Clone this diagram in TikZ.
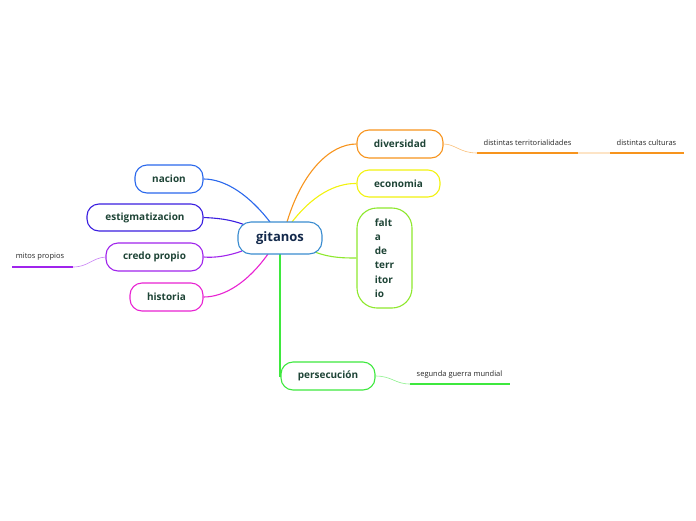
\documentclass[tikz,border=0pt]{standalone}
\usepackage{fontspec}
\setmainfont{Open Sans}
\definecolor{txt}{HTML}{1E4436}
\definecolor{navy}{HTML}{13294B}
\definecolor{cblue}{HTML}{3A8CD0}
\definecolor{corange}{HTML}{F7941D}
\definecolor{cyellow}{HTML}{F2F20F}
\definecolor{clime}{HTML}{8EE82E}
\definecolor{cgreen}{HTML}{3EE83E}
\definecolor{cnacion}{HTML}{2A68EC}
\definecolor{cestig}{HTML}{3A1EE0}
\definecolor{ccredo}{HTML}{A024EC}
\definecolor{chist}{HTML}{E823D2}
\tikzset{
  topic/.style={draw, line width=1.1pt, fill=white, rounded corners=12pt, font=\bfseries\fontsize{10}{12}\selectfont, text=txt, inner sep=0pt, anchor=center},
  sub/.style={font=\fontsize{7.5}{9}\selectfont, text=black!85, inner sep=0pt},
  conn/.style={line width=1.1pt},
  thin/.style={line width=0.6pt},
}
\begin{document}
\begin{tikzpicture}[x=1pt,y=-1pt]
\useasboundingbox (0,0) rectangle (696,520);
% connectors
\coordinate (gN) at (270,222);
\coordinate (gE) at (245,225);
\coordinate (gC) at (242,251);
\coordinate (gH) at (268,254);
\coordinate (gD) at (287,222);
\coordinate (gY) at (292,222);
\coordinate (gF) at (315,252);
\coordinate (gP) at (280,254);

\node[topic, draw=corange, minimum width=86pt, minimum height=28pt] (div) at (400,144) {diversidad};
\node[topic, draw=cyellow, minimum width=83pt, minimum height=27pt] (eco) at (398.5,183.5) {economia};
\node[topic, draw=clime, minimum width=55pt, minimum height=100pt, rounded corners=20pt, align=left, font=\bfseries\fontsize{10}{14.3}\selectfont] (fal) at (384.5,258) {falt\\a\\de\\terr\\itor\\io};
\node[topic, draw=cgreen, minimum width=94pt, minimum height=28pt] (per) at (328,376) {persecución};
\node[topic, draw=cnacion, minimum width=68pt, minimum height=28pt] (nac) at (169,179) {nacion};
\node[topic, draw=cestig, minimum width=116pt, minimum height=27pt] (est) at (145,217.5) {estigmatizacion};
\node[topic, draw=ccredo, minimum width=97pt, minimum height=28pt] (cre) at (154.5,257) {credo propio};
\node[topic, draw=chist, minimum width=73pt, minimum height=28pt] (his) at (166.5,297) {historia};

\draw[conn, cnacion] (gN) .. controls (250,196) and (226,179) .. (nac.east);
\draw[conn, cestig] (gE) .. controls (230,219) and (215,218) .. (est.east);
\draw[conn, ccredo] (gC) .. controls (228,256) and (215,258) .. (cre.east);
\draw[conn, chist] (gH) .. controls (248,282) and (225,297) .. (his.east);
\draw[conn, corange] (gD) .. controls (302,172) and (330,144) .. (div.west);
\draw[conn, cyellow] (gY) .. controls (312,196) and (335,183) .. (eco.west);
\draw[conn, clime] (gF) .. controls (330,258) and (345,258) .. (fal.west);
\draw[conn, cgreen] (gP) -- (per.west -| gP) -- (per.west);

\node[draw=cblue, line width=1.1pt, fill=white, rounded corners=13pt, minimum width=84pt, minimum height=32pt, font=\bfseries\fontsize{13}{15}\selectfont, text=navy, inner sep=0pt] (git) at (280,238) {gitanos};

% subtopics
\node[sub] (dt) at (527.5,143) {distintas territorialidades};
\coordinate (dtL) at (477,153);
\coordinate (dtR) at (578,153);
\draw[line width=1.8pt, corange] (dtL) -- (dtR);
\draw[thin, corange!60] (div.east) .. controls (455,144) and (460,153) .. (dtL);
\node[sub] (dc) at (646.5,143) {distintas culturas};
\coordinate (dcL) at (610,153);
\coordinate (dcR) at (684,153);
\draw[line width=1.8pt, corange] (dcL) -- (dcR);
\draw[line width=1.8pt, corange!25] (dtR) -- (dcL);

\node[sub] (mp) at (40,257) {mitos propios};
\coordinate (mpL) at (12,267);
\coordinate (mpR) at (73,267);
\draw[line width=1.8pt, ccredo] (mpL) -- (mpR);
\draw[thin, ccredo!60] (cre.west) .. controls (92,258) and (88,267) .. (mpR);

\node[sub] (sg) at (459.5,375) {segunda guerra mundial};
\coordinate (sgL) at (410,384);
\coordinate (sgR) at (510,384);
\draw[line width=1.8pt, cgreen] (sgL) -- (sgR);
\draw[thin, cgreen!60] (per.east) .. controls (392,376) and (395,384) .. (sgL);
\end{tikzpicture}
\end{document}
